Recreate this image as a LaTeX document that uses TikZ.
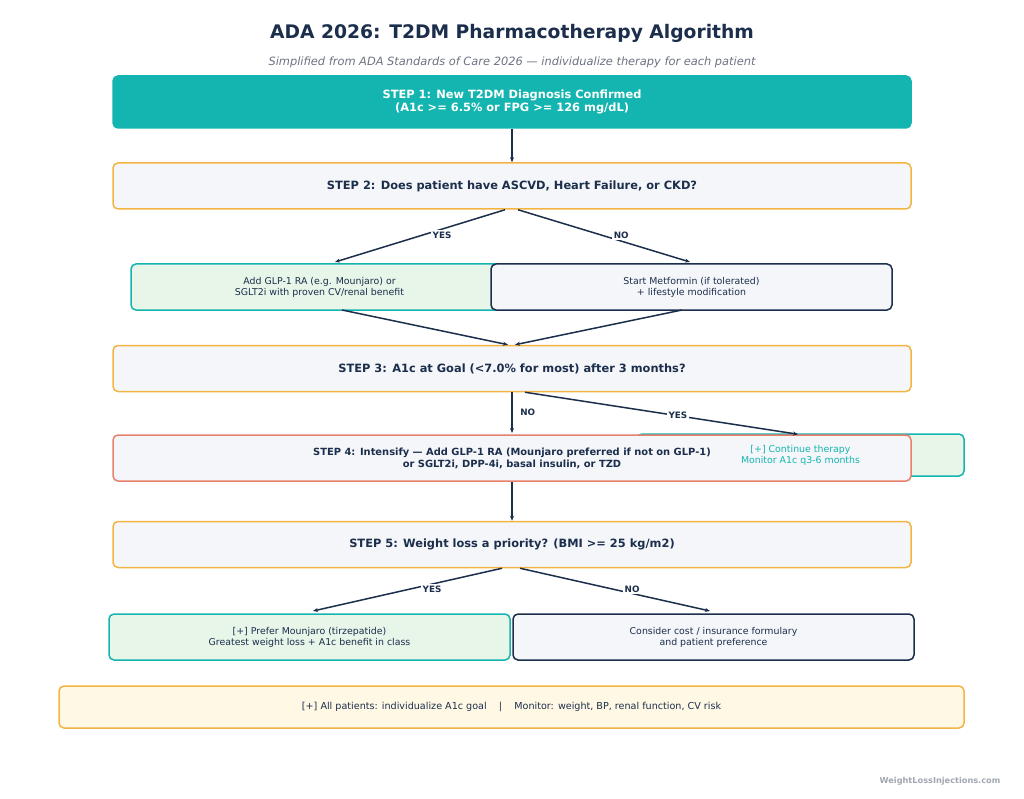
\documentclass[tikz,border=0pt]{standalone}
\usepackage{fontspec}
\setmainfont{DejaVu Sans}
\usepackage{xcolor}
\usetikzlibrary{positioning, arrows.meta}
\definecolor{navy}{HTML}{1B2E4B}
\definecolor{tealc}{HTML}{14B5B0}
\definecolor{amber}{HTML}{F2B544}
\definecolor{coral}{HTML}{E8806A}
\definecolor{paper}{HTML}{F5F6FA}
\definecolor{mint}{HTML}{E8F5E9}
\definecolor{cream}{HTML}{FFF8E5}
\definecolor{slate}{HTML}{6B7280}
\definecolor{faint}{HTML}{A0A6B0}
\tikzset{
  stepbox/.style={draw=amber, fill=paper, rounded corners=5pt, line width=1.5pt,
                  minimum width=798pt, minimum height=46pt, align=center,
                  font=\fontsize{11.4}{13}\selectfont\bfseries, text=navy},
  yesbox/.style={draw=tealc, fill=mint, rounded corners=5pt, line width=1.5pt,
                 minimum width=401pt, minimum height=46pt, align=center,
                 font=\fontsize{9.4}{11}\selectfont, text=navy},
  nobox/.style={yesbox, draw=navy, fill=paper},
  flow/.style={-{Stealth[length=5pt, width=4pt]}, line width=1.5pt, draw=navy},
  lbl/.style={font=\fontsize{8.8}{10}\selectfont\bfseries, text=navy, fill=white,
              inner sep=1.5pt}
}
\begin{document}
\begin{tikzpicture}[x=1pt, y=-1pt]
  \useasboundingbox (0,0) rectangle (1024,799);
  % title
  \node[font=\fontsize{18.7}{21}\selectfont\bfseries, text=navy] (title) at (512,33)
    {ADA 2026: T2DM Pharmacotherapy Algorithm};
  \node[font=\fontsize{11.4}{13}\selectfont\itshape, text=slate] (sub) at (512,62)
    {Simplified from ADA Standards of Care 2026 --- individualize therapy for each patient};
  % steps
  \node[stepbox, draw=tealc, fill=tealc, text=white, minimum height=52pt] (s1) at (512,102)
    {STEP 1: New T2DM Diagnosis Confirmed\\(A1c >= 6.5\% or FPG >= 126 mg/dL)};
  \node[stepbox] (s2) at (512,186) {STEP 2: Does patient have ASCVD, Heart Failure, or CKD?};
  \node[yesbox, minimum width=377pt] (glp) at (319.5,287)
    {Add GLP-1 RA (e.g. Mounjaro) or\\SGLT2i with proven CV/renal benefit};
  \node[nobox] (met) at (691.5,287)
    {Start Metformin (if tolerated)\\+ lifestyle modification};
  \node[stepbox] (s3) at (512,368.5) {STEP 3: A1c at Goal (<7.0\% for most) after 3 months?};
  \node[yesbox, minimum width=327pt, minimum height=42pt] (cont) at (800.5,455) {};
  \node[stepbox, draw=coral, fill=paper, font=\fontsize{9.9}{12}\selectfont\bfseries] (s4) at (512,458)
    {STEP 4: Intensify --- Add GLP-1 RA (Mounjaro preferred if not on GLP-1)\\or SGLT2i, DPP-4i, basal insulin, or TZD};
  \node[align=center, text=tealc, font=\fontsize{9.4}{11}\selectfont] (conttxt) at (cont.center)
    {[+] Continue therapy\\Monitor A1c q3-6 months};
  \node[stepbox] (s5) at (512,544.5) {STEP 5: Weight loss a priority? (BMI >= 25 kg/m2)};
  \node[yesbox] (mj) at (309.5,637)
    {[+] Prefer Mounjaro (tirzepatide)\\Greatest weight loss + A1c benefit in class};
  \node[nobox] (cost) at (713.5,637)
    {Consider cost / insurance formulary\\and patient preference};
  \node[stepbox, fill=cream, minimum width=905pt, minimum height=42pt,
        font=\fontsize{9.6}{11}\selectfont] (all) at (511.5,707)
    {[+] All patients: individualize A1c goal \ \ \ | \ \ \ Monitor: weight, BP, renal function, CV risk};
  \node[font=\fontsize{8.2}{9}\selectfont\bfseries, text=faint] (wm) at (940,781)
    {WeightLossInjections.com};
  % connectors
  \draw[flow] (s1) -- (s2);
  \draw[flow] ([xshift=-7pt]s2.south) -- node[lbl, pos=0.37, yshift=-6pt] {YES} (335,262);
  \draw[flow] ([xshift=6pt]s2.south) -- node[lbl, pos=0.6, yshift=6pt] {NO} (690,262);
  \draw[flow] (342,310) -- ([xshift=-4pt]s3.north);
  \draw[flow] (682,310) -- ([xshift=3pt]s3.north);
  \draw[flow] (s3.south) -- node[lbl, right=6pt] {NO} (512,433);
  \draw[flow] ([xshift=13pt]s3.south) -- node[lbl, pos=0.56] {YES} ([yshift=-1pt]cont.north -| 798,0);
  \draw[flow] (s4) -- (s5);
  \draw[flow] ([xshift=-10pt]s5.south) -- node[lbl, pos=0.37, yshift=-5pt] {YES} (313,611);
  \draw[flow] ([xshift=8pt]s5.south) -- node[lbl, pos=0.59, yshift=4pt] {NO} (710,611);
\end{tikzpicture}
\end{document}
